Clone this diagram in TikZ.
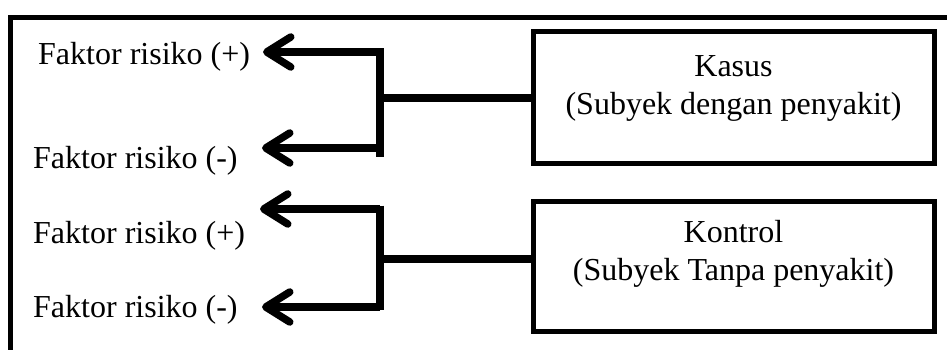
\documentclass[tikz,border=0pt]{standalone}
\usepackage{fontspec}
\setmainfont{Liberation Serif}
\usetikzlibrary{arrows.meta}
\begin{document}
\begin{tikzpicture}[x=1pt,y=-1pt,
  every node/.style={font=\fontsize{32}{38}\selectfont},
  groupbox/.style={draw, line width=5pt, minimum width=401pt, inner sep=0pt},
  grouptext/.style={align=center, anchor=base, inner sep=0pt},
  factor/.style={anchor=base west, inner sep=0pt},
  link/.style={line width=7.5pt},
  pointer/.style={line width=7.5pt, -{Straight Barb[length=24pt,width=30pt,round]}},
]
\useasboundingbox (0,0) rectangle (947,350);

% frame (top and left edges)
\draw[line width=5.5pt] (10.5,350) -- (10.5,17.5) -- (947,17.5);

% study groups
\node[groupbox, minimum height=131pt] (kasus) at (733.5,97.5) {};
\node[grouptext] (kasustxt) at (733.5,114) {Kasus\\(Subyek dengan penyakit)};
\node[groupbox, minimum height=130pt] (kontrol) at (733.5,266) {};
\node[grouptext] (kontroltxt) at (733.5,280) {Kontrol\\(Subyek Tanpa penyakit)};

% risk factor labels
\node[factor] (f1) at (38,65)  {Faktor risiko (+)};
\node[factor] (f2) at (33,168) {Faktor risiko (-)};
\node[factor] (f3) at (33,243) {Faktor risiko (+)};
\node[factor] (f4) at (33,317) {Faktor risiko (-)};

% branch points and arrow ends
\coordinate (b1) at (380,98);
\coordinate (b1top) at (380,48.5);
\coordinate (b1bot) at (380,157);
\coordinate (b2) at (380,259);
\coordinate (b2top) at (380,205.5);
\coordinate (b2bot) at (380,310);
\coordinate (t1) at (263,52);
\coordinate (t2) at (262,148);
\coordinate (t3) at (260,209);
\coordinate (t4) at (262,307);

% cases branch
\draw[link] (kasus.west |- b1) -- (b1);
\draw[link] (b1top) -- (b1bot);
\draw[pointer] (b1 |- t1) -- (t1);
\draw[pointer] (b1 |- t2) -- (t2);

% controls branch
\draw[link] (kontrol.west |- b2) -- (b2);
\draw[link] (b2top) -- (b2bot);
\draw[pointer] (b2 |- t3) -- (t3);
\draw[pointer] (b2 |- t4) -- (t4);
\end{tikzpicture}
\end{document}
